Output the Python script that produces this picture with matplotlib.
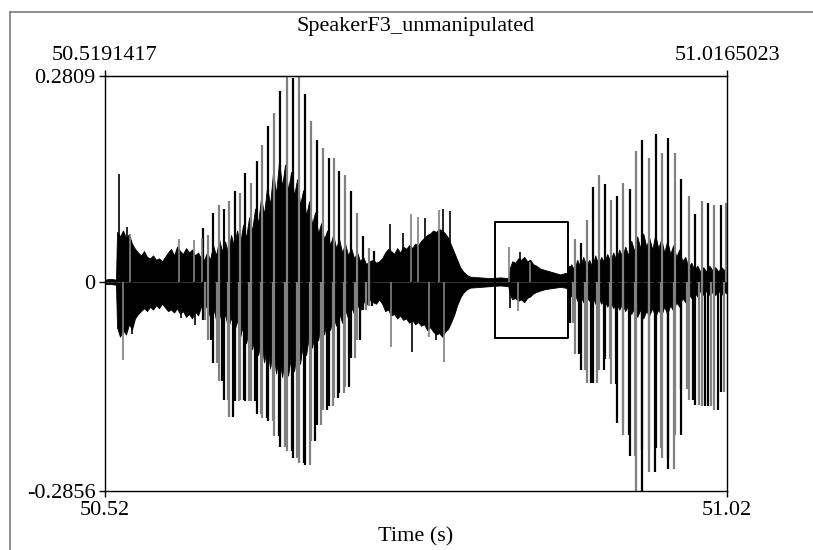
import matplotlib
matplotlib.use("Agg")
import matplotlib.pyplot as plt
from matplotlib.lines import Line2D
import numpy as np

plt.rcParams['font.family'] = ['Liberation Serif', 'DejaVu Serif']

# window of the sound shown (s)
t_start = 50.5191417
t_end = 51.0165023
amp_top = 0.2809
amp_bot = -0.2856
titulo = "SpeakerF3_unmanipulated"

# envelope of the dense part of the waveform, times in ms from t_start
# silence + first noisy stretch
seg1_ms = [0, 4, 8.8,
           9.6, 12, 14.4, 16.8, 19.2, 21.6, 24, 26.4, 28.8, 31.2, 33.6, 36, 38.4, 40.8,
           43.2, 45.6, 48, 50.4, 52.8, 55.2, 57.6, 60, 62.4, 64.8, 67.2, 69.6, 72, 74.4,
           76.8, 79.2]
seg1_hi = [0.003, 0.004, 0.003,
           0.068, 0.062, 0.070, 0.060, 0.065, 0.052, 0.045, 0.040, 0.036, 0.042, 0.034,
           0.032, 0.036, 0.030, 0.032, 0.028, 0.034, 0.040, 0.045, 0.036, 0.048, 0.042,
           0.038, 0.046, 0.040, 0.044, 0.036, 0.040, 0.032, 0.030]
seg1_lo = [-0.003, -0.003, -0.004,
           -0.062, -0.075, -0.066, -0.072, -0.058, -0.065, -0.050, -0.044, -0.040, -0.036,
           -0.040, -0.034, -0.038, -0.032, -0.036, -0.030, -0.035, -0.040, -0.038, -0.042,
           -0.036, -0.044, -0.040, -0.048, -0.044, -0.050, -0.040, -0.046, -0.034, -0.030]

# core of the first vowel
seg2_ms = [81.6, 84.0, 86.4, 88.8, 91.2, 93.6, 96.0, 98.4, 100.8, 103.2, 105.6, 108.0,
           110.4, 112.8, 115.2, 117.6, 120.0, 122.4, 124.8, 127.2, 129.6, 132.0, 134.4,
           136.8, 139.2, 141.6, 144.0, 146.4, 148.8, 151.2, 153.6, 156.0, 158.4, 160.8,
           163.2, 165.6, 168.0, 170.4, 172.8, 175.2, 177.6, 180.0, 182.4, 184.8, 187.2,
           189.6, 192.0, 194.4, 196.8, 199.2, 201.6, 204.0, 206.4, 208.8, 211.2]
seg2_hi = [0.040, 0.030, 0.050, 0.036, 0.058, 0.042, 0.055, 0.040, 0.064, 0.048,
           0.070, 0.052, 0.078, 0.060, 0.088, 0.070, 0.100, 0.080, 0.115, 0.092,
           0.130, 0.105, 0.150, 0.120, 0.165, 0.130, 0.160, 0.125, 0.150, 0.118,
           0.140, 0.105, 0.125, 0.090, 0.110, 0.078, 0.095, 0.066, 0.080, 0.058,
           0.070, 0.050, 0.064, 0.046, 0.058, 0.040, 0.052, 0.036, 0.046, 0.032,
           0.040, 0.028, 0.034, 0.024, 0.028]
seg2_lo = [-0.036, -0.048, -0.034, -0.052, -0.040, -0.058, -0.044, -0.064, -0.048, -0.070,
           -0.052, -0.076, -0.058, -0.084, -0.064, -0.092, -0.072, -0.100, -0.080, -0.110,
           -0.088, -0.118, -0.095, -0.125, -0.100, -0.130, -0.105, -0.128, -0.100, -0.122,
           -0.092, -0.112, -0.082, -0.100, -0.072, -0.090, -0.064, -0.080, -0.056, -0.072,
           -0.050, -0.066, -0.046, -0.060, -0.042, -0.056, -0.038, -0.050, -0.034, -0.044,
           -0.030, -0.040, -0.026, -0.032, -0.024]

# second noisy stretch, pause and the burst inside the box
seg3_ms = [214.4, 216.8, 219.2, 221.6, 224, 226.4, 228.8, 231.2, 233.6, 236, 238.4, 240.8,
           243.2, 245.6, 248, 250.4, 252.8, 255.2, 257.6, 260, 262.4, 264.8, 267.2, 269.6,
           272, 274.4, 276.8, 279.2, 281.6, 284, 286.4, 289.6,
           292, 300, 308, 316, 322.4,
           324, 325.6, 328, 330.4, 332.8, 335.2, 337.6, 340, 342.4, 344.8, 348, 352, 356,
           360, 364, 368]
seg3_hi = [0.030, 0.026, 0.028, 0.032, 0.040, 0.045, 0.042, 0.038, 0.046, 0.040,
           0.048, 0.045, 0.050, 0.046, 0.052, 0.050, 0.056, 0.060, 0.064, 0.066, 0.070,
           0.068, 0.072, 0.070, 0.066, 0.060, 0.050, 0.040, 0.030, 0.020, 0.014, 0.009,
           0.007, 0.006, 0.005, 0.006, 0.005,
           0.020, 0.028, 0.026, 0.032, 0.030, 0.034, 0.028, 0.030, 0.024, 0.022, 0.018,
           0.016, 0.014, 0.012, 0.010, 0.012]
seg3_lo = [-0.028, -0.030, -0.024, -0.030, -0.040, -0.038, -0.046, -0.044, -0.050,
           -0.046, -0.052, -0.050, -0.056, -0.052, -0.058, -0.055, -0.060, -0.058, -0.066,
           -0.062, -0.068, -0.072, -0.070, -0.075, -0.068, -0.064, -0.055, -0.045, -0.032,
           -0.022, -0.015, -0.010,
           -0.008, -0.007, -0.006, -0.005, -0.006,
           -0.018, -0.024, -0.022, -0.026, -0.024, -0.028, -0.022, -0.020, -0.016, -0.014,
           -0.012, -0.010, -0.009, -0.008, -0.007, -0.008]

# core of the second vowel
seg4_ms = [370.4, 372.8, 375.2, 377.6, 380.0, 382.4, 384.8, 387.2, 389.6, 392.0,
           394.4, 396.8, 399.2, 401.6, 404.0, 406.4, 408.8, 411.2, 413.6, 416.0,
           418.4, 420.8, 423.2, 425.6, 428.0, 430.4, 432.8, 435.2, 437.6, 440.0,
           442.4, 444.8, 447.2, 449.6, 452.0, 454.4, 456.8, 459.2, 461.6, 464.0,
           466.4, 468.8, 471.2, 473.6, 476.0, 478.4, 480.8, 483.2, 485.6, 488.0,
           490.4, 492.8, 495.2, 497.4]
seg4_hi = [0.012, 0.024, 0.016, 0.030, 0.020, 0.034, 0.022, 0.030, 0.020, 0.036,
           0.024, 0.034, 0.026, 0.038, 0.028, 0.040, 0.030, 0.044, 0.034, 0.048,
           0.036, 0.056, 0.042, 0.062, 0.046, 0.066, 0.048, 0.060, 0.044, 0.064,
           0.046, 0.058, 0.040, 0.056, 0.038, 0.050, 0.034, 0.044, 0.028, 0.034,
           0.020, 0.026, 0.016, 0.022, 0.014, 0.020, 0.014, 0.022, 0.016, 0.020,
           0.014, 0.020, 0.016, 0.018]
seg4_lo = [-0.010, -0.020, -0.014, -0.026, -0.018, -0.028, -0.020, -0.026, -0.018, -0.030,
           -0.022, -0.030, -0.024, -0.034, -0.026, -0.036, -0.028, -0.038, -0.030, -0.040,
           -0.032, -0.044, -0.036, -0.048, -0.038, -0.050, -0.040, -0.046, -0.036, -0.048,
           -0.038, -0.046, -0.034, -0.044, -0.032, -0.040, -0.028, -0.034, -0.022, -0.028,
           -0.016, -0.022, -0.014, -0.020, -0.012, -0.018, -0.012, -0.018, -0.014, -0.018,
           -0.012, -0.018, -0.014, -0.016]

# glottal pulse peaks, first vowel (ms, Pa)
v1_pico_ms = [78.7, 82.7, 86.7, 91.2, 95.2, 99.5, 103.7, 108.0, 112.3, 116.8, 121.3,
              125.9, 130.7, 135.2, 140.3, 145.3, 150.1, 154.9, 160.3, 164.5, 169.3,
              174.1, 178.9, 183.2, 187.5, 192.3, 196.8, 201.3, 206.4, 210.9, 215.2]
v1_pico = [0.073, 0.064, 0.094, 0.105, 0.099, 0.110, 0.124, 0.121, 0.149, 0.135, 0.165,
           0.187, 0.212, 0.231, 0.260, 0.300, 0.278, 0.300, 0.256, 0.219, 0.194, 0.183,
           0.169, 0.169, 0.151, 0.146, 0.124, 0.094, 0.062, 0.046, 0.042]
v1_vale_ms = [80.0, 84.8, 89.3, 93.9, 98.4, 102.7, 106.9, 111.2, 115.5, 120.0, 124.8,
              129.3, 134.1, 139.5, 144.3, 149.3, 153.9, 158.9, 163.7, 168.3, 172.8,
              177.3, 182.1, 186.4, 190.9, 195.2, 199.7, 204.3, 208.8, 213.6]
v1_vale = [-0.052, -0.079, -0.111, -0.136, -0.161, -0.184, -0.163, -0.161, -0.163,
           -0.163, -0.181, -0.186, -0.190, -0.211, -0.225, -0.231, -0.241, -0.247,
           -0.250, -0.218, -0.195, -0.175, -0.170, -0.159, -0.152, -0.143, -0.104,
           -0.079, -0.038, -0.033]

# second vowel
v2_pico_ms = [371.5, 375.5, 380.5, 385.3, 389.9, 395.2, 400.0, 404.5, 409.3, 414.1,
              419.5, 424.8, 429.6, 434.9, 440.3, 445.3, 450.1, 455.5, 460.8, 466.7,
              472.0, 477.1, 482.1, 486.9, 492.3, 496.5]
v2_pico = [0.021, 0.058, 0.053, 0.085, 0.130, 0.146, 0.133, 0.112, 0.117, 0.135, 0.126,
           0.178, 0.194, 0.169, 0.202, 0.176, 0.196, 0.176, 0.140, 0.117, 0.092, 0.110,
           0.108, 0.105, 0.105, 0.108]
v2_vale_ms = [374.1, 378.7, 383.5, 388.5, 393.3, 398.7, 403.5, 408.8, 413.9, 418.9,
              424.0, 429.3, 434.7, 439.5, 444.8, 449.9, 455.2, 460.5, 465.6, 470.1,
              475.2, 480.0, 484.8, 489.9, 494.7]
v2_vale = [-0.056, -0.099, -0.120, -0.138, -0.138, -0.120, -0.106, -0.140, -0.193,
           -0.209, -0.238, -0.300, -0.229, -0.259, -0.227, -0.241, -0.256, -0.209,
           -0.147, -0.161, -0.168, -0.170, -0.170, -0.175, -0.150]

# isolated spikes sticking out of the noisy parts
ruido_ms = [11.2, 14.2, 17.6, 20.0, 21.6, 59.2, 60.8, 71.2, 72.0, 77.6,
            228.0, 228.8, 238.4, 244.8, 245.2, 250.4, 256.0, 259.2, 264.8, 267.2,
            270.4, 271.2, 276.0,
            323.2, 323.8, 330.4, 332.0, 340.0]
ruido = [0.147, -0.107, 0.075, 0.065, -0.071, 0.059, -0.050, 0.057, -0.059, 0.060,
         0.079, -0.089, 0.066, 0.093, -0.096, 0.089, 0.087, -0.075, -0.080, 0.098,
         0.100, -0.109, 0.096,
         0.048, -0.036, -0.040, 0.040, 0.027]

# box drawn around the burst
caixa_t = [50.831, 50.8894]
caixa_a = [-0.0768, 0.0816]


def ms_para_s(lista):
    return t_start + np.array(lista) / 1000.0


def cores_alternadas(n, primeira='black'):
    outra = '#808080' if primeira == 'black' else 'black'
    return [primeira if i % 2 == 0 else outra for i in range(n)]


def desenha_vogal(ax, pico_ms, pico, vale_ms, vale):
    # each pulse: a line from the peak down to the trough that follows it
    fundo = list(vale) + [0] * (len(pico) - len(vale))
    ax.vlines(ms_para_s(pico_ms), fundo, pico, colors=cores_alternadas(len(pico)), lw=1.6)
    ax.vlines(ms_para_s(vale_ms), vale, 0, colors=cores_alternadas(len(vale), '#808080'), lw=1.6)


env_ms = seg1_ms + seg2_ms + seg3_ms + seg4_ms
env_hi = seg1_hi + seg2_hi + seg3_hi + seg4_hi
env_lo = seg1_lo + seg2_lo + seg3_lo + seg4_lo

fig = plt.figure(figsize=(8.13, 5.5), dpi=100)
ax = fig.add_axes([105 / 813, 59 / 550, 622 / 813, 415 / 550])

ax.axhline(0, color='#333333', lw=0.8)
ax.fill_between(ms_para_s(env_ms), env_lo, env_hi, color='black', lw=0.6)
desenha_vogal(ax, v1_pico_ms, v1_pico, v1_vale_ms, v1_vale)
desenha_vogal(ax, v2_pico_ms, v2_pico, v2_vale_ms, v2_vale)
ax.vlines(ms_para_s(ruido_ms), 0, ruido, colors=cores_alternadas(len(ruido)), lw=1.2)

ax.plot([caixa_t[0], caixa_t[1], caixa_t[1], caixa_t[0], caixa_t[0]],
        [caixa_a[0], caixa_a[0], caixa_a[1], caixa_a[1], caixa_a[0]],
        color='black', lw=1.4)

ax.set_xlim(t_start, t_end)
ax.set_ylim(amp_bot, amp_top)

for s in ax.spines.values():
    s.set_linewidth(1.0)

ax.set_yticks([amp_bot, 0, amp_top])
ax.set_yticklabels(['-0.2856', '0', '0.2809'])
ax.set_xticks([t_start, t_end])
ax.set_xticklabels(['50.52', '51.02'])
ax.tick_params(axis='both', direction='out', length=4, width=1.0, labelsize=16, pad=3)

topo = ax.secondary_xaxis('top')
topo.set_xticks([t_start, t_end])
topo.set_xticklabels(['50.5191417', '51.0165023'])
topo.tick_params(direction='out', length=4, width=1.0, labelsize=16, pad=4)

fig.text(416 / 813, 1 - 27 / 550, titulo, ha='center', va='center', fontsize=16)
fig.text(416 / 813, 1 - 537 / 550, 'Time (s)', ha='center', va='center', fontsize=16)

# grey frame of the original picture (left and top edges)
fig.add_artist(Line2D([10 / 813, 10 / 813], [0, 1 - 12 / 550], color='#7a7a7a', lw=1.2))
fig.add_artist(Line2D([10 / 813, 1], [1 - 12 / 550, 1 - 12 / 550], color='#7a7a7a', lw=1.2))

plt.savefig("out.png", dpi=100)
